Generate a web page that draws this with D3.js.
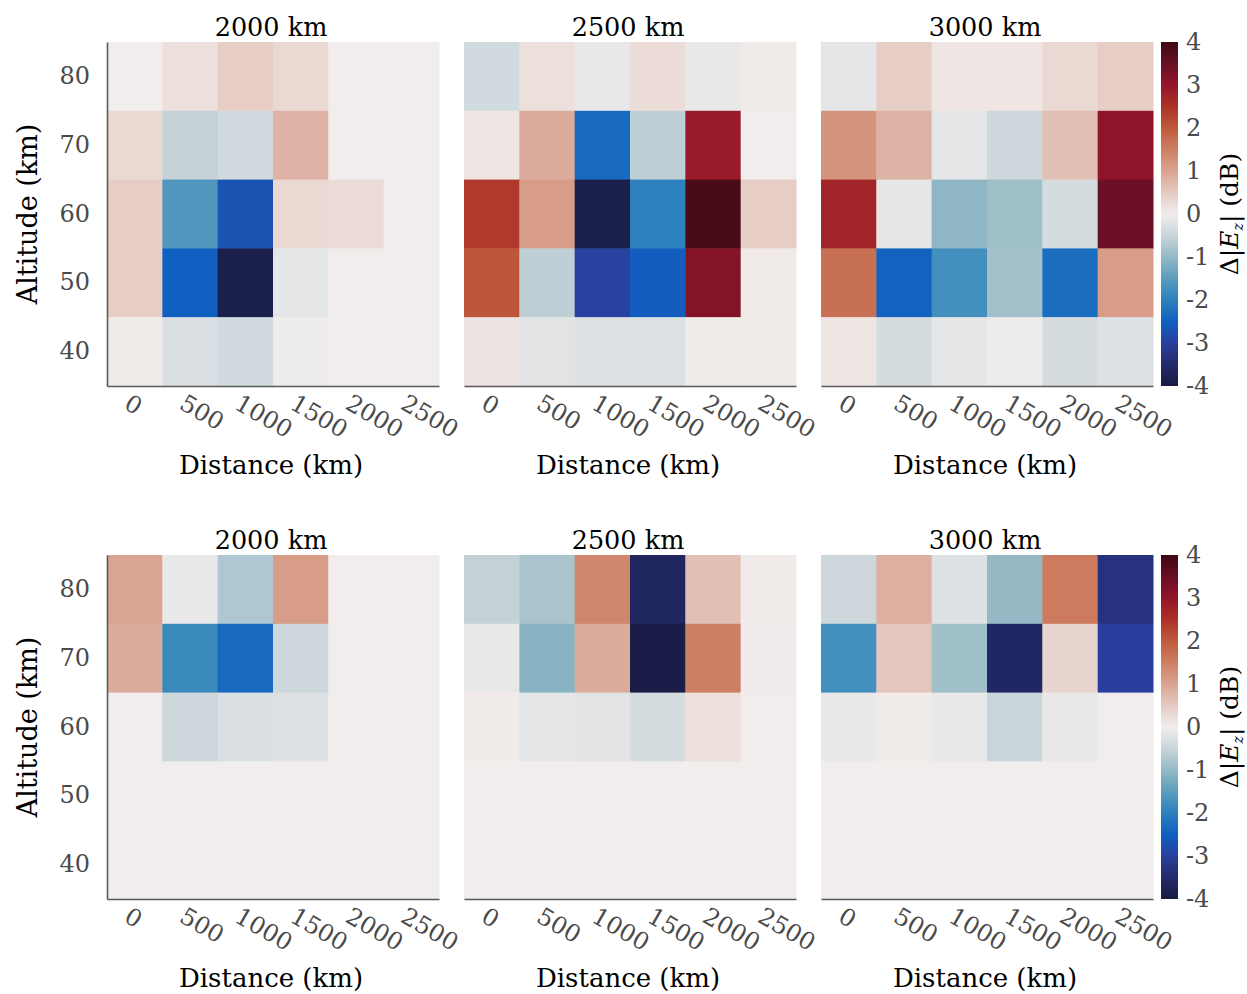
<!DOCTYPE html>
<html>
<head>
<meta charset="utf-8">
<script src="https://cdn.jsdelivr.net/npm/d3@7"></script>
<style>
  html, body { margin: 0; padding: 0; background: #fff; }
  svg { display: block; }
  text { font-family: "DejaVu Serif", "Liberation Serif", serif; }
</style>
</head>
<body>
<svg id="chart" width="1247" height="994"></svg>
<script>
// Grid coordinates
const distances = [0, 500, 1000, 1500, 2000, 2500];          // km, columns
const altitudes = [80, 70, 60, 50, 40];                        // km, rows top→bottom
const rangeTitles = ["2000 km", "2500 km", "3000 km"];
const colorbarTicks = [4, 3, 2, 1, 0, -1, -2, -3, -4];

// Δ|Ez| in dB, rows ordered 80 → 40 km, columns 0 → 2500 km
const topRange2000 = [
  [0.0, 0.2, 0.45, 0.3, 0.0, 0.0],
  [0.3, -0.55, -0.4, 0.8, 0.0, 0.0],
  [0.45, -1.6, -2.7, 0.3, 0.25, 0.0],
  [0.45, -2.5, -3.9, -0.15, 0.0, 0.0],
  [0.05, -0.3, -0.4, -0.05, 0.0, 0.0]
];
const topRange2500 = [
  [-0.4, 0.2, -0.1, 0.25, -0.1, 0.05],
  [0.1, 0.9, -2.35, -0.6, 2.9, 0.0],
  [2.4, 1.1, -3.9, -2.0, 3.85, 0.45],
  [2.05, -0.6, -2.95, -2.55, 3.15, 0.05],
  [0.15, -0.2, -0.25, -0.25, 0.05, 0.05]
];
const topRange3000 = [
  [-0.15, 0.45, 0.1, 0.1, 0.3, 0.45],
  [1.2, 0.8, -0.15, -0.45, 0.65, 3.05],
  [2.7, -0.15, -1.05, -0.9, -0.35, 3.45],
  [1.7, -2.45, -1.75, -0.85, -2.3, 1.1],
  [0.1, -0.35, -0.15, -0.05, -0.35, -0.25]
];
const bottomRange2000 = [
  [1.0, -0.1, -0.75, 1.1, 0.0, 0.0],
  [0.9, -1.85, -2.35, -0.45, 0.0, 0.0],
  [0.0, -0.45, -0.3, -0.25, 0.0, 0.0],
  [0.0, 0.0, 0.0, 0.0, 0.0, 0.0],
  [0.0, 0.0, 0.0, 0.0, 0.0, 0.0]
];
const bottomRange2500 = [
  [-0.55, -0.8, 1.4, -3.65, 0.65, 0.05],
  [-0.1, -1.1, 0.9, -3.95, 1.5, 0.02],
  [0.05, -0.15, -0.2, -0.35, 0.2, 0.0],
  [0.0, 0.0, 0.0, 0.0, 0.0, 0.0],
  [0.0, 0.0, 0.0, 0.0, 0.0, 0.0]
];
const bottomRange3000 = [
  [-0.45, 0.85, -0.25, -1.0, 1.55, -3.3],
  [-1.75, 0.55, -0.9, -3.6, 0.35, -3.0],
  [-0.1, 0.05, -0.1, -0.5, -0.1, 0.0],
  [0.0, 0.0, 0.0, 0.0, 0.0, 0.0],
  [0.0, 0.0, 0.0, 0.0, 0.0, 0.0]
];

// Diverging "balance"-style colour ramp, evenly spaced from -4 to 4 dB
const balanceStops = [
  "#181c43", "#232a6a", "#2a3f9d", "#0f60c0", "#2c80bd", "#5a9dbd",
  "#94b9c5", "#c9d5da", "#f1eded", "#e5cac2", "#d9a491", "#cd7f63",
  "#bf5a3c", "#ac3128", "#92152a", "#670f24", "#3c0912"
];

const svg = d3.select("#chart");
const panelW = 332, panelH = 344;
const colX = [107, 464, 821];
const rowY = [42, 555];
const rowData = [
  [topRange2000, topRange2500, topRange3000],
  [bottomRange2000, bottomRange2500, bottomRange3000]
];

const color = d3.scaleLinear()
  .domain(d3.range(balanceStops.length).map(i => -4 + 8 * i / (balanceStops.length - 1)))
  .range(balanceStops)
  .interpolate(d3.interpolateRgb)
  .clamp(true);

const x = d3.scaleBand().domain(distances).range([0, panelW]);
const y = d3.scaleBand().domain(altitudes).range([0, panelH]);

const tickColor = "#4a4a4a";
const spineColor = "#5a5a5a";

rowData.forEach((panels, r) => {
  panels.forEach((grid, c) => {
    const g = svg.append("g").attr("transform", `translate(${colX[c]},${rowY[r]})`);

    const cells = [];
    grid.forEach((row, i) => row.forEach((v, j) => cells.push({ alt: altitudes[i], dist: distances[j], v })));

    g.selectAll("rect.cell").data(cells).join("rect")
      .attr("class", "cell")
      .attr("x", d => x(d.dist))
      .attr("y", d => y(d.alt))
      .attr("width", x.bandwidth() + 0.5)
      .attr("height", y.bandwidth() + 0.5)
      .attr("fill", d => color(d.v));

    // panel title
    g.append("text")
      .attr("x", panelW / 2 - 2)
      .attr("y", -6)
      .attr("text-anchor", "middle")
      .attr("font-size", 25.5)
      .attr("fill", "#000")
      .text(rangeTitles[c]);

    // bottom axis
    const xAxis = g.append("g")
      .attr("transform", `translate(0,${panelH})`)
      .call(d3.axisBottom(x).tickSize(0).tickSizeOuter(0));
    xAxis.select(".domain").attr("stroke", spineColor).attr("stroke-width", 1.6);
    xAxis.selectAll(".tick text")
      .attr("font-family", "DejaVu Serif")
      .attr("font-size", 24)
      .attr("fill", tickColor)
      .attr("text-anchor", "start")
      .attr("x", -12)
      .attr("y", 22)
      .attr("dy", 0)
      .attr("transform", "rotate(30 -12 22)");

    g.append("text")
      .attr("x", panelW / 2 - 2)
      .attr("y", panelH + 88)
      .attr("text-anchor", "middle")
      .attr("font-size", 26)
      .attr("fill", "#000")
      .text("Distance (km)");

    if (c === 0) {
      const yAxis = g.append("g")
        .call(d3.axisLeft(y).tickSize(0).tickSizeOuter(0).tickPadding(17));
      yAxis.select(".domain").attr("stroke", spineColor).attr("stroke-width", 1.6);
      yAxis.selectAll(".tick text")
        .attr("font-family", "DejaVu Serif")
        .attr("font-size", 24)
        .attr("fill", tickColor);

      g.append("text")
        .attr("transform", `translate(-79,${panelH / 2}) rotate(-90)`)
        .attr("text-anchor", "middle")
        .attr("dy", "0.35em")
        .attr("font-size", 27)
        .attr("fill", "#000")
        .text("Altitude (km)");
    }
  });

  // colour bar
  const cbX = 1161, cbW = 17;
  const cb = svg.append("g").attr("transform", `translate(${cbX},${rowY[r]})`);
  const gradId = "cbgrad" + r;
  const grad = svg.append("defs").append("linearGradient")
    .attr("id", gradId)
    .attr("x1", 0).attr("y1", 1).attr("x2", 0).attr("y2", 0);
  balanceStops.forEach((col, i) => {
    grad.append("stop")
      .attr("offset", i / (balanceStops.length - 1))
      .attr("stop-color", col);
  });
  cb.append("rect")
    .attr("width", cbW)
    .attr("height", panelH)
    .attr("fill", `url(#${gradId})`);

  const cbScale = d3.scaleLinear().domain([-4, 4]).range([panelH, 0]);
  const cbAxis = cb.append("g")
    .attr("transform", `translate(${cbW},0)`)
    .call(d3.axisRight(cbScale).tickValues(colorbarTicks).tickSize(0).tickPadding(8).tickFormat(d => String(d)));
  cbAxis.select(".domain").remove();
  cbAxis.selectAll(".tick text")
    .attr("font-family", "DejaVu Serif")
    .attr("font-size", 24)
    .attr("fill", tickColor);

  const lbl = svg.append("text")
    .attr("transform", `translate(1229,${rowY[r] + panelH / 2}) rotate(-90)`)
    .attr("text-anchor", "middle")
    .attr("dy", "0.35em")
    .attr("font-size", 25)
    .attr("fill", "#000");
  lbl.append("tspan").text("Δ|");
  lbl.append("tspan").attr("font-style", "italic").text("E");
  lbl.append("tspan").attr("font-style", "italic").attr("font-size", 14).attr("dy", 5).text("z");
  lbl.append("tspan").attr("dy", -5).text("| (dB)");
});
</script>
</body>
</html>
